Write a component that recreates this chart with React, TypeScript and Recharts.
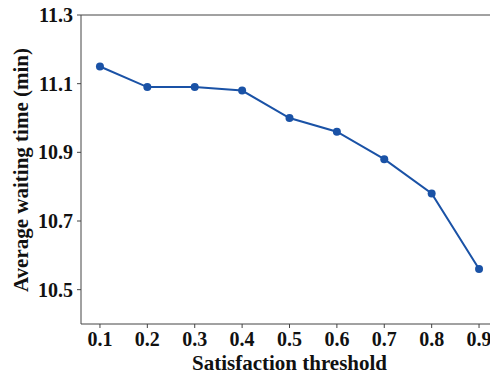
import React from "react"
import { LineChart, Line, XAxis, YAxis, ReferenceLine, Label } from "recharts"

const thresholds = [0.1, 0.2, 0.3, 0.4, 0.5, 0.6, 0.7, 0.8, 0.9]
const waitingTimes = [11.15, 11.09, 11.09, 11.08, 11.0, 10.96, 10.88, 10.78, 10.56]
const xTicks = [0.1, 0.2, 0.3, 0.4, 0.5, 0.6, 0.7, 0.8, 0.9]
const yTicks = [10.5, 10.7, 10.9, 11.1, 11.3]

const data = thresholds.map((t, i) => ({ threshold: t, wait: waitingTimes[i] }))

const FONT = "'Liberation Serif', 'Times New Roman', serif"
const AXIS = "#444"
const BLUE = "#1a52a6"

const tickStyle = { fontFamily: FONT, fontWeight: 700, fontSize: 20, fill: "#111" }
const labelStyle = { fontFamily: FONT, fontWeight: 700, fontSize: 21, fill: "#111" }

export default function App() {
  return (
    <div style={{ position: "absolute", left: 0, top: 0, width: 490, height: 373, overflow: "hidden", background: "#fff" }}>
      <LineChart width={510} height={373} data={data} margin={{ top: 15, right: 12, bottom: 0, left: 0 }}>
        <XAxis
          dataKey="threshold"
          type="number"
          domain={[0.06, 0.94]}
          ticks={xTicks}
          tickFormatter={(v: number) => v.toFixed(1)}
          height={49}
          stroke={AXIS}
          tickSize={4}
          tickMargin={4}
          tick={{ style: tickStyle, fill: "#111" }}
        >
          <Label value="Satisfaction threshold" position="insideBottom" offset={3} style={labelStyle} />
        </XAxis>
        <YAxis
          type="number"
          domain={[10.4, 11.3]}
          ticks={yTicks}
          tickFormatter={(v: number) => v.toFixed(1)}
          width={81}
          stroke={AXIS}
          tickSize={4}
          tickMargin={4}
          tick={{ style: tickStyle, fill: "#111" }}
        >
          <Label
            content={() => (
              <text
                x={21}
                y={170}
                transform="rotate(-90, 21, 170)"
                textAnchor="middle"
                dominantBaseline="central"
                style={labelStyle}
              >
                Average waiting time (min)
              </text>
            )}
          />
        </YAxis>
        <ReferenceLine y={11.3} stroke={AXIS} strokeWidth={1} />
        <Line
          dataKey="wait"
          stroke={BLUE}
          strokeWidth={2}
          dot={{ r: 4, fill: BLUE, stroke: BLUE, strokeWidth: 0 }}
          isAnimationActive={false}
        />
      </LineChart>
    </div>
  )
}
